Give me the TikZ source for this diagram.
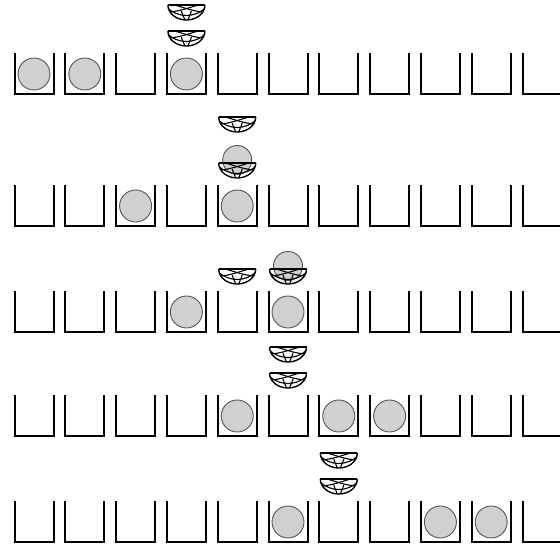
\documentclass[tikz,border=0pt]{standalone}
\usetikzlibrary{calc}
\definecolor{ballgrey}{RGB}{208,208,208}
\definecolor{balledge}{RGB}{85,85,85}
\tikzset{
  wall/.style={line width=2pt, draw=black, line join=miter},
  ballshape/.style={fill=ballgrey, draw=balledge, line width=0.9pt},
  bowl/.style={line width=1.4pt, draw=black},
  rim/.style={line width=1.9pt, draw=black},
  net/.style={line width=1.1pt, draw=black},
  % one open cell, origin at the middle of its floor
  pics/cup/.style={code={
    \draw[wall] (-19.5,-41) -- (-19.5,0) -- (19.5,0) -- (19.5,-41);
  }},
  pics/ball/.style={code={
    \path[ballshape] (0,-20) circle[radius=16];
  }},
  % basket, origin at the middle of its rim
  pics/basket/.style={code={
    \begin{scope}
      \clip (-18.5,0) arc[start angle=180, end angle=0, x radius=18.5, y radius=15] -- cycle;
      \draw[net] (-12,0) .. controls (-4,2) and (8,7) .. (19,7);
      \draw[net] (12,0) .. controls (4,2) and (-8,7) .. (-19,7);
      \draw[net] (-19,3) .. controls (-8,13) and (8,13) .. (19,3);
      \draw[net] (-5,6) .. controls (-4,10) and (-2,13) .. (-1,16);
      \draw[net] (5,6) .. controls (4,10) and (2,13) .. (1,16);
    \end{scope}
    \draw[bowl] (-18.5,0) arc[start angle=180, end angle=0, x radius=18.5, y radius=15];
    \draw[rim] (-18.5,0) -- (18.5,0);
  }},
  pics/fullbasket/.style={code={
    \path[ballshape] (0,-3) circle[radius=14.5];
    \pic {basket};
  }}
}

\begin{document}
\begin{tikzpicture}[x=1pt, y=-1pt]
  \useasboundingbox (0,0) rectangle (560,545);
  \clip (0,0) rectangle (560,545);

  % rows of cells
  \foreach \yb in {94,226,332,436,542}
    \foreach \i in {0,...,10}
      \pic at ({34+50.8*\i},\yb) {cup};

  % balls lying in the cells
  \foreach \yb/\list in {94/{0,1,3}, 226/{2,4}, 332/{3,5}, 436/{4,6,7}, 542/{5,8,9}}
    \foreach \i in \list
      \pic at ({34+50.8*\i},\yb) {ball};

  % baskets
  \pic at ({34+50.8*3},5) {basket};
  \pic at ({34+50.8*3},31) {basket};

  \pic at ({34+50.8*4},117) {basket};
  \pic at ({34+50.8*4},163) {fullbasket};

  \pic at ({34+50.8*4},269) {basket};
  \pic at ({34+50.8*5},269) {fullbasket};

  \pic at ({34+50.8*5},347) {basket};
  \pic at ({34+50.8*5},373) {basket};

  \pic at ({34+50.8*6},453) {basket};
  \pic at ({34+50.8*6},479) {basket};
\end{tikzpicture}
\end{document}
